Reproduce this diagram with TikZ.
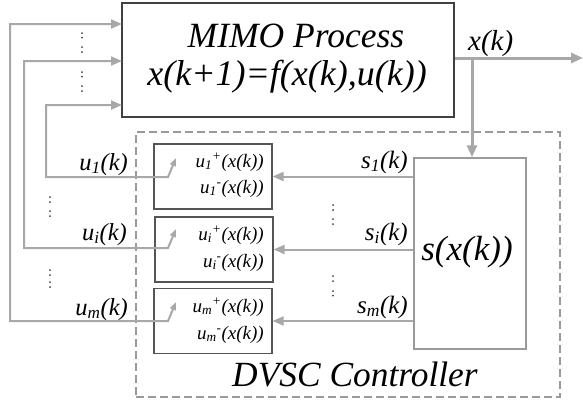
\documentclass[tikz,border=0pt]{standalone}
\usepackage{fontspec}
\setmainfont{Liberation Serif}
\usetikzlibrary{arrows.meta}
\definecolor{lg}{HTML}{A8A8A8}
\definecolor{dg}{HTML}{404040}
\definecolor{mg}{HTML}{555555}
\definecolor{bg}{HTML}{9A9A9A}
\tikzset{
  fs/.style={font=\itshape\fontsize{#1}{#1}\selectfont, inner sep=0pt},
  conn/.style={draw=lg, line width=2pt, -{Triangle[length=11pt,width=9pt]}},
  fb/.style={draw=lg, line width=2pt, {Triangle[length=8pt,width=6pt]}-{Triangle[length=11pt,width=9pt]}},
  thick conn/.style={draw=lg, line width=3pt, -{Triangle[length=12pt,width=10pt]}},
  ubox/.style={draw=mg, line width=1.2pt, minimum width=118pt, minimum height=65pt, inner sep=0pt},
  dot/.style={fill=dg},
}
\begin{document}
\begin{tikzpicture}[x=1pt,y=-1pt]
\useasboundingbox (0,0) rectangle (583,402);
% dashed controller frame
\node[draw=bg, line width=1.2pt, dash pattern=on 8pt off 4pt, minimum width=424pt, minimum height=265pt, inner sep=0pt] (ctrl) at (348,264.5) {};
% MIMO process
\node[draw=dg, line width=1.5pt, minimum width=332pt, minimum height=114pt, inner sep=0pt] (mimo) at (288,60) {};
\node[fs=35.5, anchor=base] (mimoA) at (296,47) {MIMO Process};
\node[fs=36, anchor=base] (mimoB) at (287,85) {x(k+1)=f(x(k),u(k))};
% s box
\node[draw=bg, line width=1.5pt, minimum width=112pt, minimum height=191pt, inner sep=0pt] (sbox) at (470,253.5) {};
\node[fs=35, anchor=base] (stext) at (467,260) {s(x(k))};
% u boxes
\node[ubox] (b1) at (213,176.5) {};
\node[ubox] (b2) at (214,249.5) {};
\node[ubox] (b3) at (213,321) {};
\node[fs=19, anchor=base east] (b1p) at (264,167) {u\textsubscript{1}\textsuperscript{+}(x(k))};
\node[fs=19, anchor=base east] (b1m) at (264,193) {u\textsubscript{1}\textsuperscript{-}(x(k))};
\node[fs=19, anchor=base east] (b2p) at (264,240) {u\textsubscript{i}\textsuperscript{+}(x(k))};
\node[fs=19, anchor=base east] (b2m) at (264,267) {u\textsubscript{i}\textsuperscript{-}(x(k))};
\node[fs=19, anchor=base east] (b3p) at (264,312) {u\textsubscript{m}\textsuperscript{+}(x(k))};
\node[fs=19, anchor=base east] (b3m) at (264,339) {u\textsubscript{m}\textsuperscript{-}(x(k))};
% output
\coordinate (out) at (583,58);
\coordinate (br) at (472,58);
\draw[thick conn] (mimo.east |- out) -- (out);
\draw[thick conn] (br) -- (br |- sbox.north);
\node[fs=29, anchor=base west] (xk) at (468,50) {x(k)};
% s signals
\draw[conn] (sbox.west |- b1.east) -- (b1.east);
\draw[conn] (sbox.west |- b2.east) -- (b2.east);
\draw[conn] (sbox.west |- b3.east) -- (b3.east);
\node[fs=25, anchor=base east] (s1) at (408,168) {s\textsubscript{1}(k)};
\node[fs=25, anchor=base east] (si) at (408,240) {s\textsubscript{i}(k)};
\node[fs=25, anchor=base east] (sm) at (408,313) {s\textsubscript{m}(k)};
% feedback u signals
\coordinate (t1) at (176,158);
\coordinate (t2) at (176,229);
\coordinate (t3) at (176,302);
\coordinate (m1) at (122,105);
\coordinate (m2) at (122,61);
\coordinate (m3) at (122,24);
\draw[fb] (t1) -- (168,177) -| (46,105) -- (m1);
\draw[fb] (t2) -- (168,248) -| (24,61) -- (m2);
\draw[fb] (t3) -- (168,321) -| (10,24) -- (m3);
\node[fs=24.5, anchor=base east] (u1) at (128,170) {u\textsubscript{1}(k)};
\node[fs=24.5, anchor=base east] (ui) at (127,240) {u\textsubscript{i}(k)};
\node[fs=24.5, anchor=base east] (um) at (128,315) {u\textsubscript{m}(k)};
% controller label
\node[fs=35.4, anchor=base west] (dvsc) at (232,386) {DVSC Controller};
% dots
\foreach \y in {33,37.5,47,52,72,76.5,86,91} \fill[dot] (82,\y) circle (1pt);
\foreach \y in {197,202,211,216,270,275,282,287} \fill[dot] (50,\y) circle (1pt);
\foreach \y in {205,210,219,224,276,281,291,295.5} \fill[dot] (333,\y) circle (1pt);
\end{tikzpicture}
\end{document}
